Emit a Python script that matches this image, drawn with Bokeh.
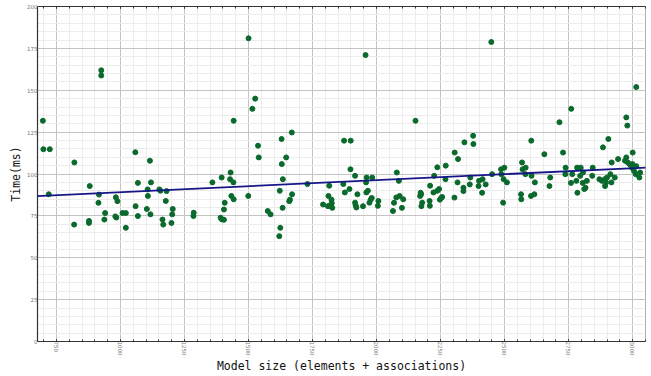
import numpy as np
from bokeh.plotting import figure
from bokeh.models import (ColumnDataSource, Range1d, LinearAxis, SingleIntervalTicker, Slope,
                          CustomJSTickFormatter)
from bokeh.embed import file_html
from bokeh.resources import INLINE

model_size = [
    697, 699, 724, 820, 720, 925, 925, 1058, 1068, 880, 916, 914, 982, 988, 1059, 940,
    1008, 1021, 1068, 980, 984, 937, 877, 877, 819, 1021,
    1115, 1442, 1119, 1106, 1152, 1156, 1180, 1107, 1177, 1103, 1204, 1117, 1202, 1164,
    1167, 1199, 1286, 1285, 1359, 1395, 1430, 1428, 1441, 1433, 1442, 1407, 1404, 1391,
    1396, 1404,
    1526, 1515, 1500, 1957, 2152, 1669, 1629, 1873, 1899, 1537, 1540, 1647, 1630, 1634,
    1898, 1916, 1961, 1983, 1959, 2079, 2087, 2237, 2270, 2225, 2269, 1730, 1815, 1870,
    1622, 1670, 1876, 1894, 1925, 1960, 1966, 2172, 2174, 2209, 2222, 2237, 2244, 1499,
    1812, 2077, 2090, 2256, 1662, 1659, 1633, 1575, 1586, 1624, 1620, 1791, 1810, 1824,
    1825, 1827, 1818, 1916, 1918, 1921, 1947, 1981, 1977, 1972, 2007, 2005, 2104, 2068,
    2099, 2064, 2170, 2178, 2175, 2207, 2208, 2247, 2252,
    2305, 2318, 2343, 2377, 2378, 2316, 2366, 2364, 2339, 2339, 2304, 2400, 2414, 2398,
    2426, 2412, 2451, 2486, 2499, 2487, 2496, 2509, 2494, 2448, 2604, 2568, 2570, 2582,
    2581, 2605, 2618, 2564, 2565, 2603, 2616, 2655, 3014, 2760, 2714, 2975, 2979, 2728,
    2884, 2905, 3000, 2678, 2675, 2738, 2737, 2759, 2764, 2783, 2797, 2780, 2795, 2784,
    2806, 2805, 2811, 2816, 2821, 2844, 2842, 2870, 2880, 2891, 2900, 2896, 2892, 2913,
    2917, 2930, 2918, 2943, 2970, 2975, 2981, 2989, 2999, 2997, 3014, 3005, 3012, 3029,
    3026,
]
time_ms = [
    131.8, 114.8, 114.8, 106.9, 87.9, 161.9, 158.8, 113.0, 94.7, 92.8, 87.7, 82.8, 86.1,
    83.8, 80.8, 76.7, 76.7, 76.7, 74.9, 74.7, 74.0, 72.8, 72.0, 70.8, 69.8, 67.9,
    107.9, 131.8, 95.0, 90.8, 90.8, 90.0, 89.8, 86.9, 83.9, 79.1, 79.1, 75.9, 75.9, 72.8,
    69.8, 70.8, 76.9, 74.9, 95.0, 97.9, 100.9, 96.9, 95.0, 86.9, 84.9, 82.8, 78.8, 73.9,
    72.9, 72.7,
    145.0, 138.9, 181.0, 171.0, 131.8, 124.8, 120.9, 119.9, 119.9, 116.9, 109.9, 109.9,
    105.9, 96.9, 102.8, 98.9, 97.9, 97.9, 95.0, 100.9, 95.9, 104.0, 105.0, 98.9, 96.9,
    94.0, 93.0, 94.0, 90.0, 87.9, 89.0, 91.0, 87.9, 89.0, 90.0, 88.8, 87.9, 93.0, 89.0,
    90.0, 91.0, 86.9, 86.9, 86.0, 86.9, 86.3, 84.7, 83.8, 79.8, 77.9, 75.9, 67.9, 62.9,
    81.8, 80.8, 84.7, 82.6, 79.8, 81.0, 82.9, 81.4, 80.0, 80.8, 85.7, 84.7, 82.9, 83.9,
    81.0, 84.9, 82.8, 79.8, 77.9, 86.9, 82.9, 80.8, 83.9, 81.0, 84.7, 85.7,
    112.8, 108.9, 118.9, 122.8, 117.9, 95.0, 97.9, 93.8, 91.8, 89.8, 85.9, 95.9, 96.9,
    92.8, 93.8, 88.8, 99.9, 102.8, 103.8, 99.9, 96.9, 95.0, 82.9, 178.8, 119.9, 106.9,
    102.8, 103.8, 99.9, 98.9, 95.0, 87.9, 84.9, 86.9, 87.9, 111.8, 151.9, 138.9, 130.9,
    133.8, 128.9, 112.8, 115.9, 120.9, 112.8, 97.9, 92.8, 103.8, 99.9, 94.7, 99.9, 103.8,
    103.8, 95.9, 98.9, 88.8, 100.9, 94.7, 91.0, 91.8, 95.9, 103.8, 98.9, 96.9, 95.9,
    96.9, 97.9, 95.0, 92.8, 99.9, 95.0, 97.9, 106.9, 108.9, 107.9, 109.9, 106.9, 105.7,
    105.9, 103.8, 104.7, 101.8, 99.9, 100.9, 97.9,
]

x_ticks = [750, 1000, 1250, 1500, 1750, 2000, 2250, 2500, 2750, 3000]
y_ticks = [25, 50, 75, 100, 125, 150, 175, 200]

src = ColumnDataSource(data=dict(x=model_size, y=time_ms))
slope, intercept = np.polyfit(np.array(model_size, float), np.array(time_ms, float), 1)

p = figure(width=651, height=376, output_backend="svg", toolbar_location=None,
           x_range=Range1d(676, 3050), y_range=Range1d(0, 200),
           min_border_left=37, min_border_right=6, min_border_top=6, min_border_bottom=0,
           x_axis_label="Model size (elements + associations)", y_axis_label="Time(ms)")
p.background_fill_color = "white"
p.outline_line_color = "#b0b0b0"
p.outline_line_width = 1

p.xaxis.ticker = SingleIntervalTicker(interval=250, num_minor_ticks=5)
p.yaxis.ticker = SingleIntervalTicker(interval=25, num_minor_ticks=5)

p.xgrid.grid_line_color = "#c4c4c4"
p.ygrid.grid_line_color = "#c4c4c4"
p.xgrid.minor_grid_line_color = "#ececec"
p.ygrid.minor_grid_line_color = "#ececec"
p.grid.grid_line_width = 1
p.grid.minor_grid_line_width = 1

for ax in (p.xaxis[0], p.yaxis[0]):
    ax.axis_line_color = "#333333"
    ax.axis_line_width = 1.2
    ax.major_label_text_font = "DejaVu Sans"
    ax.major_label_text_font_size = "5.5px"
    ax.major_label_text_color = "#777777"
    ax.major_label_standoff = 0
    ax.axis_label_text_font = "DejaVu Sans Mono"
    ax.axis_label_text_font_size = "11.5px"
    ax.axis_label_text_font_style = "normal"
    ax.axis_label_text_color = "#111111"
    ax.axis_label_standoff = 1
    ax.major_tick_line_color = "#333333"
    ax.minor_tick_line_color = "#333333"

p.xaxis.major_label_orientation = "vertical"
p.xaxis.major_tick_in = 2
p.xaxis.major_tick_out = 0
p.xaxis.minor_tick_in = 2
p.xaxis.minor_tick_out = 0
p.yaxis.major_tick_in = 0
p.yaxis.major_tick_out = 0
p.yaxis.minor_tick_in = 0
p.yaxis.minor_tick_out = 0

top = LinearAxis(ticker=SingleIntervalTicker(interval=250, num_minor_ticks=5),
                 formatter=CustomJSTickFormatter(code="return '';"))
top.major_label_text_font_size = "6px"
top.major_label_standoff = 0
top.axis_line_color = "#333333"
top.axis_line_width = 1.2
top.major_tick_in = 2
top.major_tick_out = 0
top.minor_tick_in = 2
top.minor_tick_out = 0
top.major_tick_line_color = "#333333"
top.minor_tick_line_color = "#333333"
p.add_layout(top, "above")

p.scatter("x", "y", source=src, size=5, fill_color="#0a6a2c", line_color="#0a6a2c")
p.add_layout(Slope(gradient=slope, y_intercept=intercept, line_color="#161687", line_width=1.8))

open("out.html", "w").write(file_html(p, INLINE))
